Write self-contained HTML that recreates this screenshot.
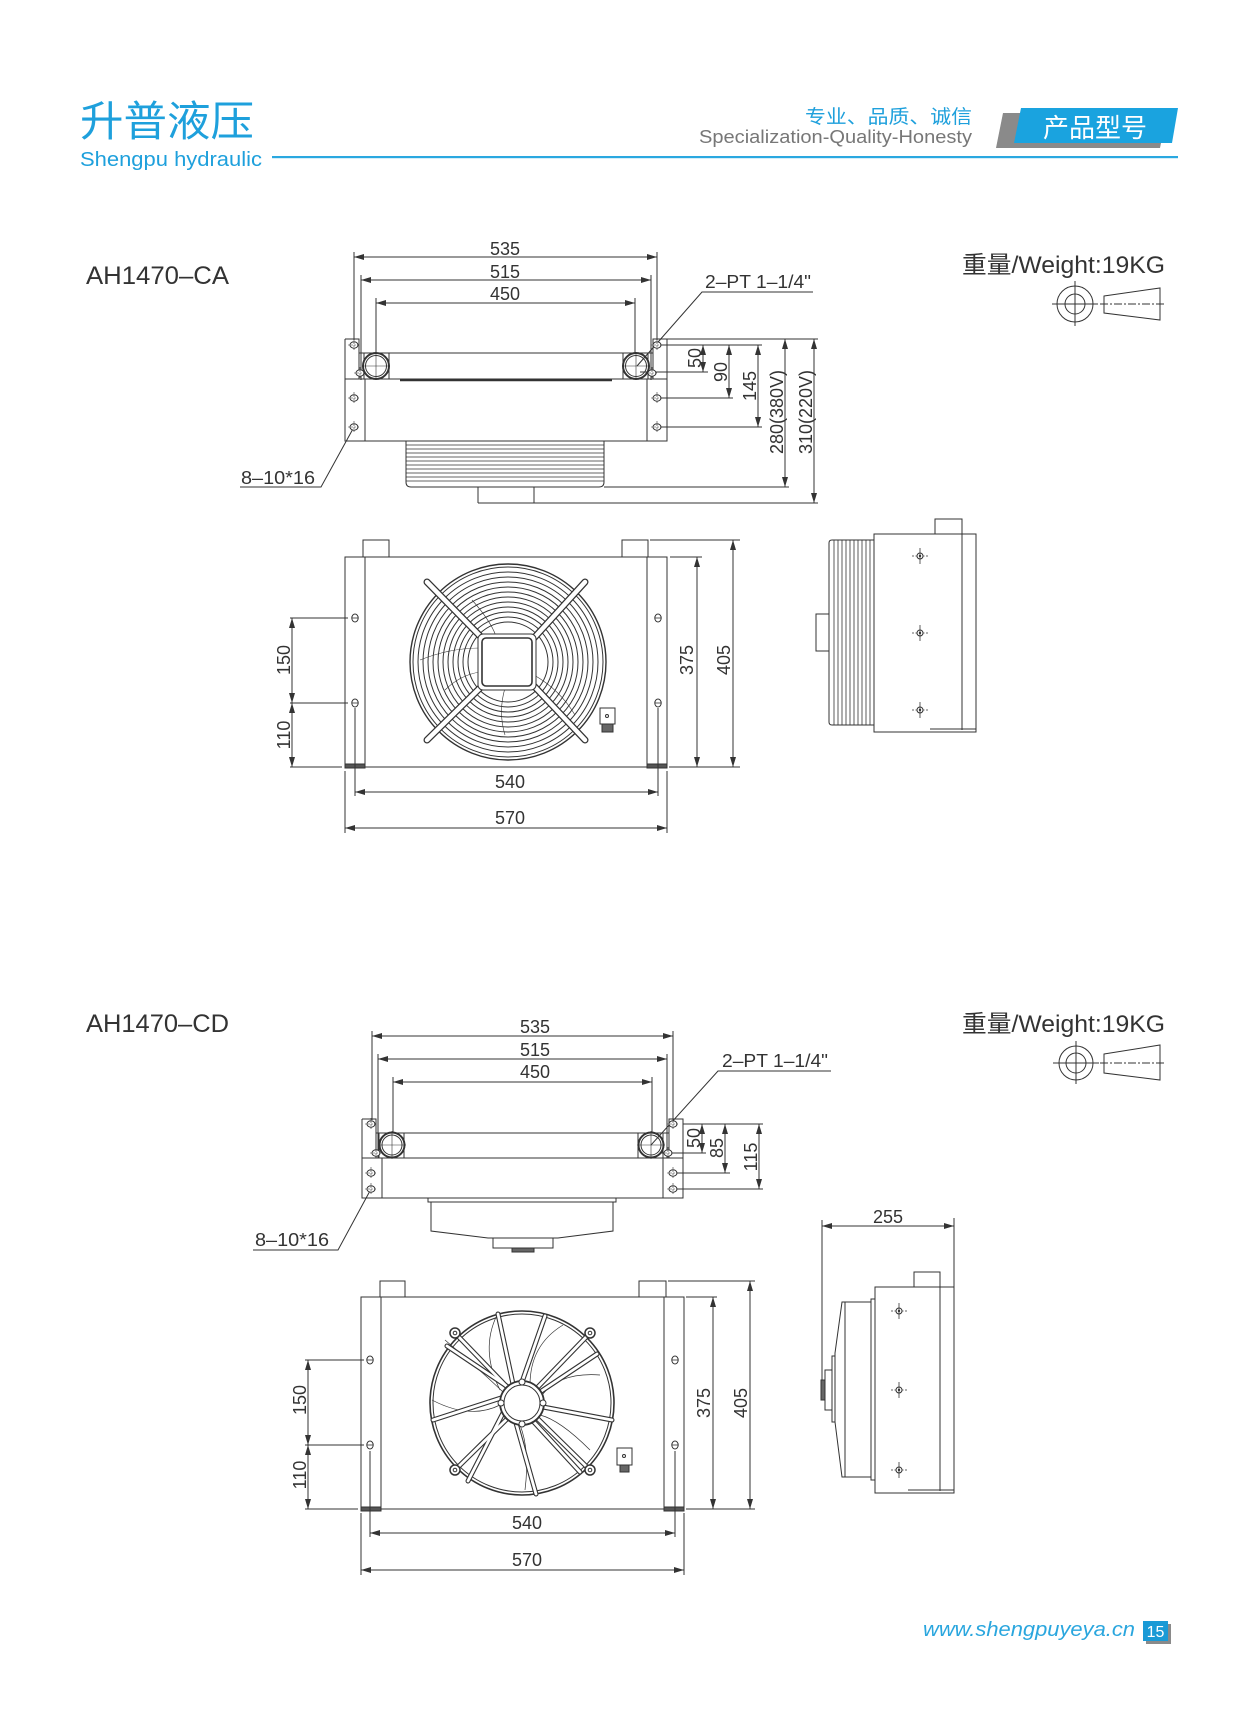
<!DOCTYPE html>
<html><head><meta charset="utf-8">
<style>
html,body{margin:0;padding:0;background:#fff;}
svg{display:block;}
text{font-family:"Liberation Sans","Noto Sans CJK SC",sans-serif;}
</style></head>
<body>
<svg width="1250" height="1716" viewBox="0 0 1250 1716" xmlns="http://www.w3.org/2000/svg">
<defs>
<marker id="a" viewBox="0 0 10 6" refX="10" refY="3" markerWidth="10" markerHeight="6" orient="auto-start-reverse" markerUnits="userSpaceOnUse"><path d="M0,0 L10,3 L0,6 z" fill="#333"/></marker>
<g id="hole"><ellipse cx="0" cy="0" rx="4" ry="3.2" fill="#fff" stroke="#333" stroke-width="1"/><line x1="-6" y1="0" x2="6" y2="0" stroke="#333" stroke-width="0.6" stroke-dasharray="2,1"/><line x1="0" y1="-6" x2="0" y2="6" stroke="#333" stroke-width="0.6" stroke-dasharray="2,1"/></g>
<g id="vhole"><ellipse cx="0" cy="0" rx="3.2" ry="4" fill="#fff" stroke="#333" stroke-width="1"/><line x1="-3.2" y1="0" x2="3.2" y2="0" stroke="#333" stroke-width="0.8"/></g>
<g id="cross"><circle r="3" fill="none" stroke="#333" stroke-width="1"/><line x1="-8" y1="0" x2="8" y2="0" stroke="#333" stroke-width="0.8" stroke-dasharray="2,1.5"/><line x1="0" y1="-8" x2="0" y2="8" stroke="#333" stroke-width="0.8"/><circle r="1.2" fill="#333"/></g>
</defs>

<!-- HEADER -->
<text x="80" y="136" font-size="42" fill="#1ea0dc" textLength="174" lengthAdjust="spacingAndGlyphs">升普液压</text>
<text x="80" y="166" font-size="20" fill="#1ea0dc" textLength="182" lengthAdjust="spacingAndGlyphs">Shengpu hydraulic</text>
<rect x="272" y="156" width="906" height="2.2" fill="#2aa8e0"/>
<text x="972" y="123" font-size="19" fill="#1ea0dc" text-anchor="end" textLength="167" lengthAdjust="spacingAndGlyphs">专业、品质、诚信</text>
<text x="972" y="143" font-size="18" fill="#777" text-anchor="end" textLength="273" lengthAdjust="spacingAndGlyphs">Specialization-Quality-Honesty</text>
<polygon points="1003,113 1167,113 1160,148 996,148" fill="#8a8a8a"/>
<polygon points="1021,108 1178,108 1172,143 1014,143" fill="#1aa3df"/>
<text x="1043" y="137" font-size="26" fill="#fff" textLength="104" lengthAdjust="spacingAndGlyphs">产品型号</text>

<!-- ============ CA ============ -->
<text x="86" y="284" font-size="25" fill="#333" textLength="143" lengthAdjust="spacingAndGlyphs">AH1470–CA</text>
<text x="962" y="273" font-size="24" fill="#333" textLength="203" lengthAdjust="spacingAndGlyphs">重量/Weight:19KG</text>
<g stroke="#333" fill="none" stroke-width="1">
<circle cx="1075" cy="304" r="18"/><circle cx="1075" cy="304" r="10"/>
<line x1="1052" y1="304" x2="1098" y2="304"/><line x1="1075" y1="281" x2="1075" y2="326"/>
<polygon points="1104,296 1160,288 1160,320 1104,313"/>
<line x1="1100" y1="304" x2="1166" y2="304" stroke-dasharray="8,2,2,2"/>
</g>

<!-- CA top view -->
<g stroke="#333" fill="none" stroke-width="1">
<!-- dims top -->
<line x1="354" y1="257" x2="657" y2="257" marker-start="url(#a)" marker-end="url(#a)"/>
<line x1="361" y1="280" x2="651" y2="280" marker-start="url(#a)" marker-end="url(#a)"/>
<line x1="376" y1="303" x2="635" y2="303" marker-start="url(#a)" marker-end="url(#a)"/>
<line x1="354" y1="252" x2="354" y2="340"/><line x1="657" y1="252" x2="657" y2="340"/>
<line x1="361" y1="275" x2="361" y2="380"/><line x1="651" y1="275" x2="651" y2="380"/>
<line x1="376" y1="298" x2="376" y2="360"/><line x1="635" y1="298" x2="635" y2="360"/>
<!-- body -->
<path d="M345,339 H359 V353 H365" />
<path d="M345,339 V441 H667 V339 H653 V353 H647"/>
<line x1="345" y1="379" x2="667" y2="379"/>
<line x1="365" y1="353" x2="647" y2="353"/>
<line x1="365" y1="379" x2="365" y2="441"/><line x1="647" y1="379" x2="647" y2="441"/>
<line x1="359" y1="339" x2="359" y2="379"/><line x1="653" y1="339" x2="653" y2="379"/>
<line x1="400" y1="380" x2="612" y2="380" stroke-width="2.5"/>
<rect x="364" y="353" width="25" height="26" fill="#fff"/>
<rect x="623" y="353" width="25" height="26" fill="#fff"/>
<circle cx="376" cy="366" r="13" fill="#fff" stroke-width="2"/><circle cx="376" cy="366" r="10.5"/>
<circle cx="636" cy="366" r="13" fill="#fff" stroke-width="2"/><circle cx="636" cy="366" r="10.5"/>
<line x1="362" y1="366" x2="390" y2="366" stroke-width="0.6"/><line x1="376" y1="352" x2="376" y2="380" stroke-width="0.6"/>
<line x1="622" y1="366" x2="650" y2="366" stroke-width="0.6"/><line x1="636" y1="352" x2="636" y2="380" stroke-width="0.6"/>
<!-- fins -->
<path d="M406,441 V482 Q406,487 411,487 H599 Q604,487 604,482 V441" />
<line x1="478" y1="487" x2="478" y2="503"/><line x1="534" y1="487" x2="534" y2="503"/><line x1="478" y1="503" x2="534" y2="503"/>
<!-- right dims -->
<line x1="667" y1="339" x2="818" y2="339"/>
<line x1="657" y1="345" x2="762" y2="345"/>
<line x1="640" y1="372" x2="708" y2="372"/>
<line x1="657" y1="398" x2="733" y2="398"/>
<line x1="657" y1="427" x2="762" y2="427"/>
<line x1="604" y1="487" x2="789" y2="487"/>
<line x1="534" y1="503" x2="818" y2="503"/>
<line x1="703" y1="345" x2="703" y2="372" marker-start="url(#a)" marker-end="url(#a)"/>
<line x1="729" y1="345" x2="729" y2="398" marker-start="url(#a)" marker-end="url(#a)"/>
<line x1="758" y1="345" x2="758" y2="427" marker-start="url(#a)" marker-end="url(#a)"/>
<line x1="785" y1="339" x2="785" y2="487" marker-start="url(#a)" marker-end="url(#a)"/>
<line x1="814" y1="339" x2="814" y2="503" marker-start="url(#a)" marker-end="url(#a)"/>
<!-- leaders -->
<polyline points="637,366 702,292 813,292"/>
<polyline points="354,427 321,487 240,487"/>
</g>
<g stroke="#333" stroke-width="0.8">
<line x1="406" y1="445" x2="604" y2="445"/><line x1="406" y1="449" x2="604" y2="449"/><line x1="406" y1="453" x2="604" y2="453"/><line x1="406" y1="457" x2="604" y2="457"/><line x1="406" y1="461" x2="604" y2="461"/><line x1="406" y1="465" x2="604" y2="465"/><line x1="406" y1="469" x2="604" y2="469"/><line x1="406" y1="473" x2="604" y2="473"/><line x1="406" y1="477" x2="604" y2="477"/><line x1="406" y1="481" x2="604" y2="481"/>
</g>
<use href="#hole" x="354" y="345"/><use href="#hole" x="360" y="373"/><use href="#hole" x="354" y="398"/><use href="#hole" x="354" y="427"/>
<use href="#hole" x="657" y="345"/><use href="#hole" x="652" y="373"/><use href="#hole" x="657" y="398"/><use href="#hole" x="657" y="427"/>
<g font-size="18" fill="#333" text-anchor="middle">
<text x="505" y="255">535</text><text x="505" y="278">515</text><text x="505" y="300">450</text>
<text x="705" y="288" text-anchor="start" textLength="106" lengthAdjust="spacingAndGlyphs">2–PT 1–1/4"</text>
<text x="241" y="484" text-anchor="start" textLength="74" lengthAdjust="spacingAndGlyphs">8–10*16</text>
<text transform="translate(701,358) rotate(-90)">50</text>
<text transform="translate(727,372) rotate(-90)">90</text>
<text transform="translate(756,386) rotate(-90)">145</text>
<text transform="translate(783,412) rotate(-90)">280(380V)</text>
<text transform="translate(812,412) rotate(-90)">310(220V)</text>
</g>

<!-- CA front view -->
<g stroke="#333" fill="none" stroke-width="1">
<rect x="363" y="540" width="26" height="17"/><rect x="622" y="540" width="26" height="17"/>
<rect x="345" y="557" width="322" height="210"/>
<line x1="365" y1="557" x2="365" y2="767"/><line x1="647" y1="557" x2="647" y2="767"/>
<rect x="345" y="764" width="20" height="4" fill="#555"/><rect x="647" y="764" width="20" height="4" fill="#555"/>
<!-- fan rings -->
<circle cx="508" cy="662" r="98" stroke-width="1.4"/>
<circle cx="508" cy="662" r="95"/><circle cx="508" cy="662" r="90"/><circle cx="508" cy="662" r="85"/><circle cx="508" cy="662" r="80"/><circle cx="508" cy="662" r="75"/><circle cx="508" cy="662" r="70"/><circle cx="508" cy="662" r="65"/><circle cx="508" cy="662" r="60"/><circle cx="508" cy="662" r="55"/><circle cx="508" cy="662" r="50"/><circle cx="508" cy="662" r="45"/><circle cx="508" cy="662" r="40"/>
<path d="M472,600 Q490,620 496,636" stroke-width="0.6"/><path d="M560,608 Q548,630 534,640" stroke-width="0.6"/><path d="M445,690 Q460,675 480,672" stroke-width="0.6"/><path d="M505,688 Q498,712 505,735" stroke-width="0.6"/><path d="M534,675 Q560,690 575,715" stroke-width="0.6"/><path d="M420,660 Q450,648 480,648" stroke-width="0.6"/>
</g>
<g stroke-linecap="round">
<line x1="482" y1="638" x2="427" y2="582" stroke="#333" stroke-width="7"/><line x1="482" y1="638" x2="427" y2="582" stroke="#fff" stroke-width="4.5"/>
<line x1="534" y1="638" x2="585" y2="582" stroke="#333" stroke-width="7"/><line x1="534" y1="638" x2="585" y2="582" stroke="#fff" stroke-width="4.5"/>
<line x1="482" y1="686" x2="427" y2="740" stroke="#333" stroke-width="7"/><line x1="482" y1="686" x2="427" y2="740" stroke="#fff" stroke-width="4.5"/>
<line x1="534" y1="686" x2="585" y2="740" stroke="#333" stroke-width="7"/><line x1="534" y1="686" x2="585" y2="740" stroke="#fff" stroke-width="4.5"/>
</g>
<g stroke="#333" fill="none" stroke-width="1">
<rect x="478" y="634" width="58" height="56" rx="5" fill="#fff"/>
<rect x="482" y="638" width="50" height="48" rx="4" stroke-width="1.6"/>
<rect x="600" y="708" width="15" height="16" fill="#fff"/><rect x="602" y="724" width="11" height="8" fill="#666"/><circle cx="607" cy="716" r="1.5"/>
<!-- dims -->
<line x1="290" y1="618" x2="348" y2="618"/><line x1="290" y1="703" x2="348" y2="703"/><line x1="290" y1="767" x2="342" y2="767"/>
<line x1="292" y1="618" x2="292" y2="703" marker-start="url(#a)" marker-end="url(#a)"/>
<line x1="292" y1="703" x2="292" y2="767" marker-start="url(#a)" marker-end="url(#a)"/>
<line x1="670" y1="557" x2="702" y2="557"/><line x1="650" y1="540" x2="740" y2="540"/><line x1="669" y1="767" x2="740" y2="767"/>
<line x1="697" y1="557" x2="697" y2="767" marker-start="url(#a)" marker-end="url(#a)"/>
<line x1="733" y1="540" x2="733" y2="767" marker-start="url(#a)" marker-end="url(#a)"/>
<line x1="355" y1="708" x2="355" y2="796"/><line x1="658" y1="708" x2="658" y2="796"/>
<line x1="345" y1="771" x2="345" y2="833"/><line x1="667" y1="771" x2="667" y2="833"/>
<line x1="355" y1="792" x2="658" y2="792" marker-start="url(#a)" marker-end="url(#a)"/>
<line x1="345" y1="828" x2="667" y2="828" marker-start="url(#a)" marker-end="url(#a)"/>
</g>
<use href="#vhole" x="355" y="618"/><use href="#vhole" x="355" y="703"/><use href="#vhole" x="658" y="618"/><use href="#vhole" x="658" y="703"/>
<g font-size="18" fill="#333" text-anchor="middle">
<text transform="translate(290,660) rotate(-90)">150</text>
<text transform="translate(290,735) rotate(-90)">110</text>
<text transform="translate(693,660) rotate(-90)">375</text>
<text transform="translate(730,660) rotate(-90)">405</text>
<text x="510" y="788">540</text><text x="510" y="824">570</text>
</g>

<!-- CA side view -->
<g stroke="#333" fill="none" stroke-width="1">
<rect x="935" y="519" width="27" height="15"/>
<rect x="874" y="534" width="102" height="198"/>
<line x1="962" y1="534" x2="962" y2="730"/>
<line x1="930" y1="729" x2="976" y2="729"/>
<path d="M874,540 H832 Q829,540 829,543 V722 Q829,725 832,725 H874"/>
<rect x="816" y="614" width="13" height="37"/>
</g>
<g stroke="#333" stroke-width="0.8">
<line x1="834" y1="540" x2="834" y2="725"/><line x1="838" y1="540" x2="838" y2="725"/><line x1="842" y1="540" x2="842" y2="725"/><line x1="846" y1="540" x2="846" y2="725"/><line x1="850" y1="540" x2="850" y2="725"/><line x1="854" y1="540" x2="854" y2="725"/><line x1="858" y1="540" x2="858" y2="725"/><line x1="862" y1="540" x2="862" y2="725"/><line x1="866" y1="540" x2="866" y2="725"/><line x1="870" y1="540" x2="870" y2="725"/>
</g>
<use href="#cross" x="920" y="556"/><use href="#cross" x="920" y="633"/><use href="#cross" x="920" y="710"/>

<!-- ============ CD ============ -->
<text x="86" y="1032" font-size="25" fill="#333" textLength="143" lengthAdjust="spacingAndGlyphs">AH1470–CD</text>
<text x="962" y="1032" font-size="24" fill="#333" textLength="203" lengthAdjust="spacingAndGlyphs">重量/Weight:19KG</text>
<g stroke="#333" fill="none" stroke-width="1">
<circle cx="1076" cy="1063" r="17"/><circle cx="1076" cy="1063" r="10"/>
<line x1="1053" y1="1063" x2="1099" y2="1063"/><line x1="1076" y1="1041" x2="1076" y2="1084"/>
<polygon points="1104,1054 1160,1045 1160,1080 1104,1073"/>
<line x1="1100" y1="1063" x2="1166" y2="1063" stroke-dasharray="8,2,2,2"/>
</g>

<!-- CD top view -->
<g stroke="#333" fill="none" stroke-width="1">
<line x1="372" y1="1036" x2="673" y2="1036" marker-start="url(#a)" marker-end="url(#a)"/>
<line x1="378" y1="1059" x2="667" y2="1059" marker-start="url(#a)" marker-end="url(#a)"/>
<line x1="393" y1="1082" x2="652" y2="1082" marker-start="url(#a)" marker-end="url(#a)"/>
<line x1="372" y1="1031" x2="372" y2="1120"/><line x1="673" y1="1031" x2="673" y2="1120"/>
<line x1="378" y1="1054" x2="378" y2="1158"/><line x1="667" y1="1054" x2="667" y2="1158"/>
<line x1="393" y1="1077" x2="393" y2="1140"/><line x1="652" y1="1077" x2="652" y2="1140"/>
<path d="M362,1119 H376 V1133 H382"/>
<path d="M362,1119 V1198 H683 V1119 H669 V1133 H663"/>
<line x1="362" y1="1158" x2="683" y2="1158"/>
<line x1="382" y1="1133" x2="663" y2="1133"/>
<line x1="382" y1="1158" x2="382" y2="1198"/><line x1="663" y1="1158" x2="663" y2="1198"/>
<line x1="376" y1="1119" x2="376" y2="1158"/><line x1="669" y1="1119" x2="669" y2="1158"/>
<rect x="379" y="1133" width="25" height="25" fill="#fff"/>
<rect x="638" y="1133" width="25" height="25" fill="#fff"/>
<circle cx="392" cy="1145" r="12.5" fill="#fff" stroke-width="2"/><circle cx="392" cy="1145" r="10"/>
<circle cx="651" cy="1145" r="12.5" fill="#fff" stroke-width="2"/><circle cx="651" cy="1145" r="10"/>
<line x1="378" y1="1145" x2="406" y2="1145" stroke-width="0.6"/><line x1="392" y1="1131" x2="392" y2="1159" stroke-width="0.6"/>
<line x1="637" y1="1145" x2="665" y2="1145" stroke-width="0.6"/><line x1="651" y1="1131" x2="651" y2="1159" stroke-width="0.6"/>
<!-- motor -->
<rect x="428" y="1198" width="188" height="4"/>
<path d="M431,1202 V1231 L488,1238 H558 L613,1231 V1202"/>
<rect x="493" y="1238" width="60" height="10"/>
<rect x="512" y="1248" width="22" height="4" fill="#666"/>
<!-- right dims -->
<line x1="683" y1="1124" x2="763" y2="1124"/>
<line x1="660" y1="1153" x2="706" y2="1153"/>
<line x1="673" y1="1173" x2="730" y2="1173"/>
<line x1="673" y1="1189" x2="763" y2="1189"/>
<line x1="702" y1="1124" x2="702" y2="1153" marker-start="url(#a)" marker-end="url(#a)"/>
<line x1="725" y1="1124" x2="725" y2="1173" marker-start="url(#a)" marker-end="url(#a)"/>
<line x1="759" y1="1124" x2="759" y2="1189" marker-start="url(#a)" marker-end="url(#a)"/>
<polyline points="651,1145 718,1071 831,1071"/>
<polyline points="371,1189 338,1250 253,1250"/>
</g>
<use href="#hole" x="371" y="1124"/><use href="#hole" x="376" y="1153"/><use href="#hole" x="371" y="1173"/><use href="#hole" x="371" y="1189"/>
<use href="#hole" x="673" y="1124"/><use href="#hole" x="668" y="1153"/><use href="#hole" x="673" y="1173"/><use href="#hole" x="673" y="1189"/>
<g font-size="18" fill="#333" text-anchor="middle">
<text x="535" y="1033">535</text><text x="535" y="1056">515</text><text x="535" y="1078">450</text>
<text x="722" y="1067" text-anchor="start" textLength="106" lengthAdjust="spacingAndGlyphs">2–PT 1–1/4"</text>
<text x="255" y="1246" text-anchor="start" textLength="74" lengthAdjust="spacingAndGlyphs">8–10*16</text>
<text transform="translate(700,1138) rotate(-90)">50</text>
<text transform="translate(723,1148) rotate(-90)">85</text>
<text transform="translate(757,1157) rotate(-90)">115</text>
</g>

<!-- CD front view -->
<g stroke="#333" fill="none" stroke-width="1">
<rect x="380" y="1281" width="25" height="16"/><rect x="639" y="1281" width="27" height="16"/>
<rect x="361" y="1297" width="323" height="212"/>
<line x1="381" y1="1297" x2="381" y2="1509"/><line x1="664" y1="1297" x2="664" y2="1509"/>
<rect x="361" y="1507" width="20" height="4" fill="#555"/><rect x="664" y="1507" width="20" height="4" fill="#555"/>
<circle cx="522" cy="1403" r="92" stroke-width="1.6"/><circle cx="522" cy="1403" r="89"/>
<!-- blade curves -->
<path d="M497,1315 Q480,1350 500,1390" stroke-width="0.7"/>
<path d="M563,1325 Q530,1345 530,1385" stroke-width="0.7"/>
<path d="M600,1375 Q560,1372 542,1395" stroke-width="0.7"/>
<path d="M590,1450 Q560,1420 540,1415" stroke-width="0.7"/>
<path d="M525,1490 Q530,1450 520,1425" stroke-width="0.7"/>
<path d="M455,1470 Q480,1440 505,1420" stroke-width="0.7"/>
<path d="M432,1400 Q470,1420 500,1405" stroke-width="0.7"/>
<path d="M445,1340 Q480,1370 503,1392" stroke-width="0.7"/>
</g>
<g stroke-linecap="round">
<g stroke="#333" stroke-width="5">
<line x1="522" y1="1382" x2="545" y2="1316"/><line x1="540" y1="1392" x2="597" y2="1354"/><line x1="543" y1="1407" x2="612" y2="1420"/><line x1="533" y1="1421" x2="580" y2="1472"/><line x1="516" y1="1423" x2="536" y2="1494"/><line x1="503" y1="1413" x2="468" y2="1481"/><line x1="501" y1="1398" x2="433" y2="1420"/><line x1="508" y1="1387" x2="447" y2="1346"/><line x1="513" y1="1384" x2="498" y2="1314"/><line x1="455" y1="1333" x2="510" y2="1390"/><line x1="590" y1="1333" x2="535" y2="1390"/><line x1="455" y1="1470" x2="508" y2="1418"/><line x1="590" y1="1470" x2="537" y2="1418"/>
</g>
<g stroke="#fff" stroke-width="2.8">
<line x1="522" y1="1382" x2="545" y2="1316"/><line x1="540" y1="1392" x2="597" y2="1354"/><line x1="543" y1="1407" x2="612" y2="1420"/><line x1="533" y1="1421" x2="580" y2="1472"/><line x1="516" y1="1423" x2="536" y2="1494"/><line x1="503" y1="1413" x2="468" y2="1481"/><line x1="501" y1="1398" x2="433" y2="1420"/><line x1="508" y1="1387" x2="447" y2="1346"/><line x1="513" y1="1384" x2="498" y2="1314"/><line x1="455" y1="1333" x2="510" y2="1390"/><line x1="590" y1="1333" x2="535" y2="1390"/><line x1="455" y1="1470" x2="508" y2="1418"/><line x1="590" y1="1470" x2="537" y2="1418"/>
</g>
</g>
<g stroke="#333" fill="#fff" stroke-width="1">
<circle cx="522" cy="1403" r="22" stroke-width="1.8"/><circle cx="522" cy="1403" r="18"/>
<circle cx="522" cy="1382" r="3"/><circle cx="522" cy="1424" r="3"/><circle cx="501" cy="1403" r="3"/><circle cx="543" cy="1403" r="3"/>
<circle cx="455" cy="1333" r="5" stroke-width="1.5"/><circle cx="590" cy="1333" r="5" stroke-width="1.5"/><circle cx="455" cy="1470" r="5" stroke-width="1.5"/><circle cx="590" cy="1470" r="5" stroke-width="1.5"/>
<circle cx="455" cy="1333" r="1.8"/><circle cx="590" cy="1333" r="1.8"/><circle cx="455" cy="1470" r="1.8"/><circle cx="590" cy="1470" r="1.8"/>
<rect x="617" y="1448" width="15" height="17"/><rect x="620" y="1465" width="9" height="7" fill="#666"/><circle cx="624" cy="1456" r="1.5"/>
</g>
<g stroke="#333" fill="none" stroke-width="1">
<line x1="305" y1="1360" x2="364" y2="1360"/><line x1="305" y1="1445" x2="364" y2="1445"/><line x1="305" y1="1509" x2="358" y2="1509"/>
<line x1="308" y1="1360" x2="308" y2="1445" marker-start="url(#a)" marker-end="url(#a)"/>
<line x1="308" y1="1445" x2="308" y2="1509" marker-start="url(#a)" marker-end="url(#a)"/>
<line x1="686" y1="1297" x2="717" y2="1297"/><line x1="668" y1="1281" x2="755" y2="1281"/><line x1="686" y1="1509" x2="755" y2="1509"/>
<line x1="713" y1="1297" x2="713" y2="1509" marker-start="url(#a)" marker-end="url(#a)"/>
<line x1="750" y1="1281" x2="750" y2="1509" marker-start="url(#a)" marker-end="url(#a)"/>
<line x1="370" y1="1451" x2="370" y2="1537"/><line x1="675" y1="1451" x2="675" y2="1537"/>
<line x1="361" y1="1513" x2="361" y2="1575"/><line x1="684" y1="1513" x2="684" y2="1575"/>
<line x1="370" y1="1533" x2="675" y2="1533" marker-start="url(#a)" marker-end="url(#a)"/>
<line x1="361" y1="1570" x2="684" y2="1570" marker-start="url(#a)" marker-end="url(#a)"/>
</g>
<use href="#vhole" x="370" y="1360"/><use href="#vhole" x="370" y="1445"/><use href="#vhole" x="675" y="1360"/><use href="#vhole" x="675" y="1445"/>
<g font-size="18" fill="#333" text-anchor="middle">
<text transform="translate(306,1400) rotate(-90)">150</text>
<text transform="translate(306,1475) rotate(-90)">110</text>
<text transform="translate(710,1403) rotate(-90)">375</text>
<text transform="translate(747,1403) rotate(-90)">405</text>
<text x="527" y="1529">540</text><text x="527" y="1566">570</text>
</g>

<!-- CD side view -->
<g stroke="#333" fill="none" stroke-width="1">
<line x1="822" y1="1226" x2="954" y2="1226" marker-start="url(#a)" marker-end="url(#a)"/>
<line x1="822" y1="1220" x2="822" y2="1400"/><line x1="954" y1="1218" x2="954" y2="1287"/>
<rect x="914" y="1272" width="26" height="15"/>
<rect x="875" y="1287" width="79" height="206"/>
<line x1="940" y1="1287" x2="940" y2="1491"/>
<line x1="908" y1="1490" x2="954" y2="1490"/>
<rect x="871" y="1299" width="4" height="181"/>
<path d="M871,1302 H842 L835,1353 V1422 L842,1477 H871"/>
<line x1="845" y1="1302" x2="845" y2="1477"/>
<rect x="832" y="1356" width="3" height="66"/>
<rect x="825" y="1370" width="7" height="40"/>
<rect x="821" y="1380" width="4" height="20" fill="#666"/>
</g>
<use href="#cross" x="899" y="1311"/><use href="#cross" x="899" y="1390"/><use href="#cross" x="899" y="1470"/>
<text x="888" y="1223" font-size="18" fill="#333" text-anchor="middle">255</text>

<!-- FOOTER -->
<text x="923" y="1636" font-size="20" font-style="italic" fill="#2aa6de" textLength="212" lengthAdjust="spacingAndGlyphs">www.shengpuyeya.cn</text>
<rect x="1146" y="1624" width="25" height="20" fill="#8a8a8a"/>
<rect x="1143" y="1621" width="25" height="20" fill="#1a9ad6"/>
<text x="1155.5" y="1637" font-size="16" fill="#fff" text-anchor="middle">15</text>
</svg>
</body></html>
